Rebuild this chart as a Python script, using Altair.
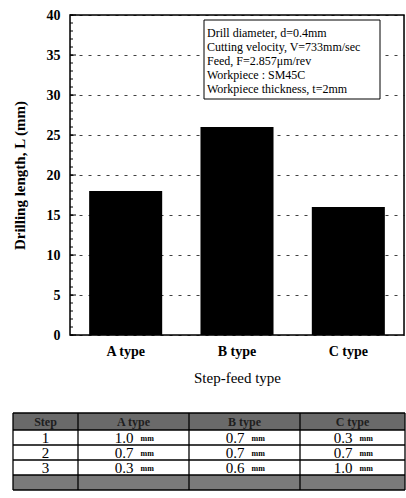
import altair as alt
import pandas as pd

# ---------------- data ----------------
types = ["A type", "B type", "C type"]
drill_length = [18, 26, 16]
y_major = [0, 5, 10, 15, 20, 25, 30, 35, 40]
y_minor = list(range(0, 41))

legend_lines = [
    "Drill diameter, d=0.4mm",
    "Cutting velocity, V=733mm/sec",
    "Feed, F=2.857\u03bcm/rev",
    "Workpiece : SM45C",
    "Workpiece thickness, t=2mm",
]

table_header = ["Step", "A type", "B type", "C type"]
steps = ["1", "2", "3"]
a_depth = ["1.0", "0.7", "0.3"]
b_depth = ["0.7", "0.7", "0.6"]
c_depth = ["0.3", "0.7", "1.0"]
unit = "mm"

SERIF = "Liberation Serif"

# ---------------- top bar chart ----------------
W, H = 334, 320
df = pd.DataFrame({"type": types, "length": drill_length})

x_enc = alt.X(
    "type:N", sort=types,
    scale=alt.Scale(paddingInner=0.344, paddingOuter=0.172),
    axis=alt.Axis(
        title="Step-feed type", labelAngle=0, ticks=False, domain=False,
        labelFont=SERIF, labelFontWeight="bold", labelFontSize=14, labelColor="black",
        labelPadding=9, titleFont=SERIF, titleFontWeight="normal", titleFontSize=15,
        titleColor="black", titlePadding=12,
    ),
)
y_enc = alt.Y(
    "length:Q",
    scale=alt.Scale(domain=[0, 40], nice=False),
    axis=alt.Axis(
        title="Drilling length, L (mm)", values=y_major, ticks=False, domain=False,
        labelOverlap=False,
        grid=True, gridDash=[3, 6], gridColor="black", gridOpacity=0.75, gridWidth=1,
        labelFont=SERIF, labelFontWeight="bold", labelFontSize=14, labelColor="black",
        labelPadding=10, titleFont=SERIF, titleFontWeight="bold", titleFontSize=15,
        titleColor="black", titlePadding=19,
    ),
)

bars = alt.Chart(df).mark_bar(color="black").encode(x=x_enc, y=y_enc)

minor_df = pd.DataFrame({"length": y_minor})
minor_ticks = alt.Chart(minor_df).mark_rule(color="black", strokeWidth=1).encode(
    x=alt.value(0), x2=alt.value(3), y=y_enc
)
major_df = pd.DataFrame({"length": y_major})
major_ticks = alt.Chart(major_df).mark_rule(color="black", strokeWidth=1).encode(
    x=alt.value(0), x2=alt.value(6), y=y_enc
)

box = alt.Chart(pd.DataFrame({"a": [0]})).mark_rect(
    fill="white", stroke="black", strokeWidth=1
).encode(x=alt.value(134), x2=alt.value(310), y=alt.value(5), y2=alt.value(84))

legend_layers = []
for i, line in enumerate(legend_lines):
    legend_layers.append(
        alt.Chart(pd.DataFrame({"t": [line]})).mark_text(
            font=SERIF, fontSize=12, color="black", align="left", baseline="middle"
        ).encode(x=alt.value(137), y=alt.value(17.5 + 14 * i), text="t:N")
    )

frame = alt.Chart(pd.DataFrame({"a": [0]})).mark_rect(
    fill=None, stroke="black", strokeWidth=1.5
).encode(x=alt.value(0), x2=alt.value(W), y=alt.value(0), y2=alt.value(H))

top = alt.layer(bars, minor_ticks, major_ticks, box, *legend_layers, frame)

# ---------------- table ----------------
TW, TH = 392, 77
col_edges = [0, 65, 176, 287, 392]
row_edges = [0, 17, 32, 47, 62, 77]
col_centers = [(col_edges[i] + col_edges[i + 1]) / 2 for i in range(4)]
row_centers = [(row_edges[i] + row_edges[i + 1]) / 2 for i in range(5)]

# table is placed below the chart: x from -57 to 335, y from 398 to 475 (plot coords)
tx = alt.Scale(domain=[0, TW], range=[-57, -57 + TW])
ty = alt.Scale(domain=[0, TH], range=[398, 398 + TH])

bands_df = pd.DataFrame({
    "x0": [0, 0], "x1": [TW, TW],
    "y0": [row_edges[0], row_edges[4]], "y1": [row_edges[1], row_edges[5]],
    "shade": ["#6a6a6a", "#7a7a7a"],
})
bands = alt.Chart(bands_df).mark_rect().encode(
    x=alt.X("x0:Q", scale=tx, axis=None), x2="x1:Q",
    y=alt.Y("y0:Q", scale=ty, axis=None), y2="y1:Q",
    color=alt.Color("shade:N", scale=None),
)

hl_df = pd.DataFrame({"y": row_edges, "x0": [0] * len(row_edges), "x1": [TW] * len(row_edges)})
hlines = alt.Chart(hl_df).mark_rule(color="black", strokeWidth=1.3).encode(
    x=alt.X("x0:Q", scale=tx, axis=None), x2="x1:Q", y=alt.Y("y:Q", scale=ty, axis=None)
)
vl_df = pd.DataFrame({"x": col_edges, "y0": [0] * len(col_edges), "y1": [TH] * len(col_edges)})
vlines = alt.Chart(vl_df).mark_rule(color="black", strokeWidth=1.3).encode(
    x=alt.X("x:Q", scale=tx, axis=None), y=alt.Y("y0:Q", scale=ty, axis=None), y2="y1:Q"
)

head_df = pd.DataFrame({"x": col_centers, "y": [row_centers[0]] * 4, "t": table_header})
head_text = alt.Chart(head_df).mark_text(
    font=SERIF, fontSize=12, fontWeight="bold", color="#1e1e1e", baseline="middle"
).encode(x=alt.X("x:Q", scale=tx, axis=None), y=alt.Y("y:Q", scale=ty, axis=None), text="t:N")

step_df = pd.DataFrame({"x": [col_centers[0]] * 3, "y": row_centers[1:4], "t": steps})
step_text = alt.Chart(step_df).mark_text(
    font=SERIF, fontSize=15, color="black", baseline="middle"
).encode(x=alt.X("x:Q", scale=tx, axis=None), y=alt.Y("y:Q", scale=ty, axis=None), text="t:N")

num_rows = []
for ci, col in enumerate([a_depth, b_depth, c_depth]):
    for ri, v in enumerate(col):
        num_rows.append({"x": col_centers[ci + 1], "y": row_centers[ri + 1], "t": v, "u": unit})
num_df = pd.DataFrame(num_rows)
num_text = alt.Chart(num_df).mark_text(
    font=SERIF, fontSize=15, color="black", baseline="middle", align="right"
).encode(x=alt.X("x:Q", scale=tx, axis=None), y=alt.Y("y:Q", scale=ty, axis=None), text="t:N")
unit_text = alt.Chart(num_df).mark_text(
    font=SERIF, fontSize=8, fontWeight="bold", color="black", baseline="middle",
    align="left", dx=7, dy=1
).encode(x=alt.X("x:Q", scale=tx, axis=None), y=alt.Y("y:Q", scale=ty, axis=None), text="u:N")

table = alt.layer(bands, hlines, vlines, head_text, step_text, num_text, unit_text)

chart = alt.layer(top, table).resolve_scale(
    x="independent", y="independent", color="independent"
).properties(
    width=W, height=H,
    autosize=alt.AutoSizeParams(type="none"),
    padding={"left": 70, "top": 15, "right": 2, "bottom": 163},
).configure_view(stroke=None).configure(background="white")

chart.save("out.html", embed_options={"renderer": "svg", "actions": False})
